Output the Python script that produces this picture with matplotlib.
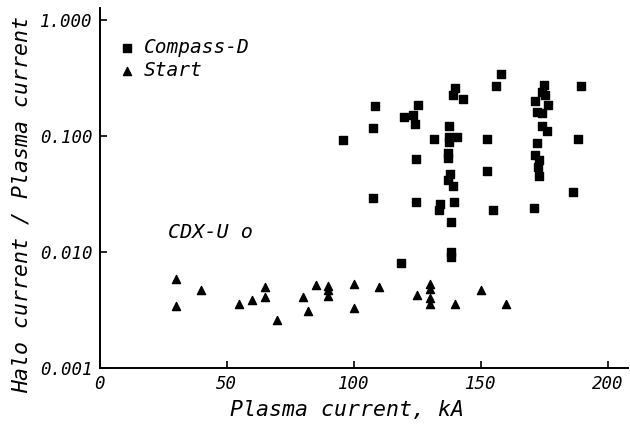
import numpy as np
import matplotlib
matplotlib.use('Agg')
import matplotlib.pyplot as plt
from matplotlib.ticker import FixedLocator, NullLocator

# Compass-D (squares)
compass_x = [96, 107.5, 108.5, 107.5, 120, 123.5, 124, 125.5, 124.5, 124.5,
             118.5, 131.5, 134, 133.5, 140, 139, 143, 137.5, 137.5, 140.5,
             137.5, 137, 137.3, 138, 137, 139, 139.5, 138.5, 138.5, 138.5,
             152.5, 152.5, 155, 156, 158, 189.5, 188.5, 186.5, 171, 175,
             174, 175.5, 171.5, 176.5, 172, 174, 174, 176, 172, 171.5,
             173, 172.5, 173]
compass_y = [0.092, 0.117, 0.183, 0.029, 0.147, 0.153, 0.127, 0.184, 0.063, 0.027,
             0.008, 0.094, 0.026, 0.023, 0.26, 0.225, 0.21, 0.123, 0.098, 0.098,
             0.089, 0.071, 0.065, 0.047, 0.042, 0.037, 0.027, 0.018, 0.0101, 0.009,
             0.094, 0.050, 0.023, 0.27, 0.34, 0.268, 0.094, 0.033, 0.024, 0.275,
             0.24, 0.225, 0.20, 0.185, 0.162, 0.157, 0.123, 0.11, 0.087, 0.069,
             0.062, 0.054, 0.045]

# Start (triangles)
start_x = [30, 30, 40, 55, 60, 65, 65, 70, 80, 82, 85, 90, 90, 90,
           100, 100, 110, 125, 130, 130, 130, 130, 140, 150, 160]
start_y = [0.0059, 0.0034, 0.0047, 0.0036, 0.0039, 0.0050, 0.0041, 0.0026,
           0.0041, 0.0031, 0.0052, 0.0051, 0.0047, 0.0042, 0.0053, 0.0033,
           0.0050, 0.0043, 0.0053, 0.0048, 0.0040, 0.0036, 0.0036, 0.0047, 0.0036]

yticks = [0.001, 0.010, 0.100, 1.000]
ytick_labels = ['0.001', '0.010', '0.100', '1.000']
xticks = [0, 50, 100, 150, 200]

font = ['DejaVu Sans Mono', 'DejaVu Sans']
plt.rcParams['font.family'] = font
plt.rcParams['font.style'] = 'italic'

fig = plt.figure(figsize=(6.3, 4.28), dpi=100)
ax = fig.add_axes([0.158, 0.140, 0.8389, 0.8411])

ax.scatter(compass_x, compass_y, marker='s', s=30, color='black', label='Compass-D')
ax.scatter(start_x, start_y, marker='^', s=34, color='black', label='Start')

ax.set_yscale('log')
ax.set_xlim(0, 208)
ax.set_ylim(0.001, 1.27)
ax.yaxis.set_major_locator(FixedLocator(yticks))
ax.yaxis.set_minor_locator(NullLocator())
ax.set_yticklabels(ytick_labels)
ax.set_xticks(xticks)
ax.set_xticklabels([str(v) for v in xticks])

for side in ['top', 'right']:
    ax.spines[side].set_visible(False)
for side in ['left', 'bottom']:
    ax.spines[side].set_linewidth(1.4)
ax.tick_params(direction='in', length=5, width=1.2, labelsize=12.5, pad=5)

ax.set_xlabel('Plasma current, kA', fontsize=15.5)
ax.set_ylabel('Halo current / Plasma current', fontsize=15.5)
ax.xaxis.set_label_coords(0.468, -0.088)
ax.yaxis.set_label_coords(-0.128, 0.455)

ax.text(27, 0.0148, 'CDX-U o', fontsize=14.5, va='center', ha='left')

ax.legend(loc='upper left', bbox_to_anchor=(0.0, 0.965), frameon=False,
          fontsize=14, handletextpad=0.4, labelspacing=0.2, borderaxespad=0.5,
          handlelength=1.0)

fig.savefig('out.png', dpi=100)
